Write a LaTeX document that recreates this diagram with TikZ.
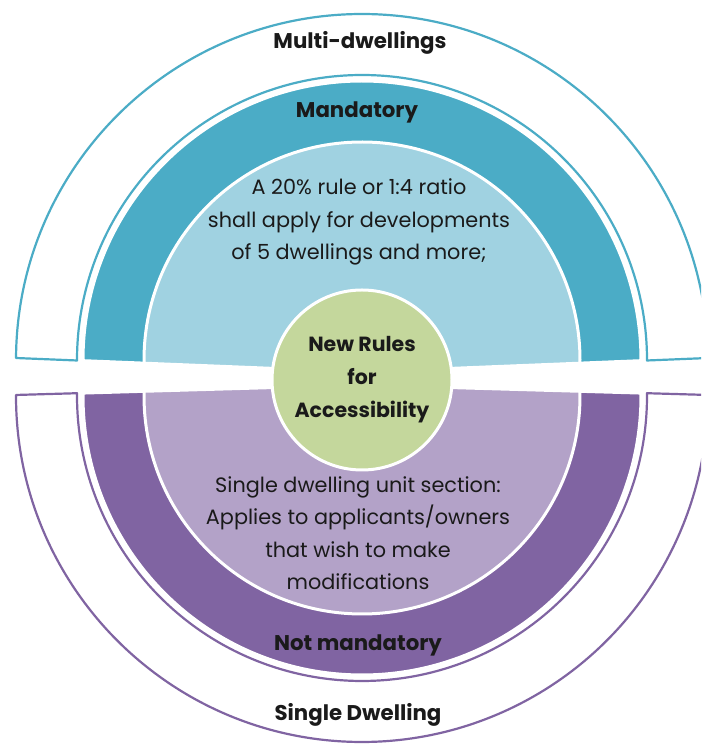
\documentclass[tikz,border=0pt]{standalone}
\usepackage{fontspec}
\setmainfont{Poppins}
\usetikzlibrary{calc}
\definecolor{tealdark}{HTML}{4BACC6}
\definecolor{teallight}{HTML}{A0D2E1}
\definecolor{plumdark}{HTML}{8064A2}
\definecolor{plumlight}{HTML}{B3A2C8}
\definecolor{hubgreen}{HTML}{C4D79C}
\definecolor{ink}{HTML}{1A1A1A}
\tikzset{
  rimline/.style ={draw=#1, line width=2.2pt, fill=white, line join=round},
  bandfill/.style={fill=#1, draw=white, line width=3pt, line join=round},
  hub/.style     ={circle, fill=hubgreen, draw=white, line width=3pt,
                   minimum size=180pt, inner sep=0pt, align=center, text=ink,
                   font=\fontsize{20.5}{33}\selectfont\bfseries},
  ttl/.style     ={font=\fontsize{21.3}{24}\selectfont\bfseries, text=ink},
  body/.style    ={font=\fontsize{20.8}{32.5}\selectfont, text=ink, align=center}
}

\begin{document}
\begin{tikzpicture}[x=1pt,y=1pt]
\useasboundingbox (0,0) rectangle (701,749);
\clip (0,0) rectangle (701,749);

\coordinate (top) at (362,389);
\coordinate (topapex) at (362,377);
\coordinate (bot) at (362,353);
\coordinate (botapex) at (362,364);

%% ---- Upper half: multi-dwellings --------------------------------------
\path[rimline=tealdark] (top) ++(179.67:346)
      arc[start angle=179.67, end angle=0.33, radius=346]
      -- ($(top)+(-0.1:285)$)
      arc[start angle=-0.1, end angle=180.1, radius=285] -- cycle;
\path[bandfill=tealdark] (top) ++(180.14:279)
      arc[start angle=180.14, end angle=-0.14, radius=279] -- (topapex) -- cycle;
\path[bandfill=teallight] (top) ++(180.84:218)
      arc[start angle=180.84, end angle=-0.84, radius=218] -- (topapex) -- cycle;

%% ---- Lower half: single dwelling --------------------------------------
\path[rimline=plumdark] (bot) ++(179.83:346)
      arc[start angle=179.83, end angle=360.17, radius=346]
      -- ($(bot)+(0.56:285)$)
      arc[start angle=360.56, end angle=179.44, radius=285] -- cycle;
\path[bandfill=plumdark] (bot) ++(179.4:279)
      arc[start angle=179.4, end angle=360.6, radius=279] -- (botapex) -- cycle;
\path[bandfill=plumlight] (bot) ++(178.76:218)
      arc[start angle=178.76, end angle=361.24, radius=218] -- (botapex) -- cycle;

%% ---- Labels -----------------------------------------------------------
\node[ttl] (multi) at (360,706) {Multi-dwellings};
\node[ttl] (mand) at (357,637) {Mandatory};
\node[body] (ruletxt) at (359,527) {A 20\% rule or 1:4 ratio\\
shall apply for developments\\of 5 dwellings and more;};
\node[body] (unittxt) at (358,216) {Single dwelling unit section:\\
Applies to applicants/owners\\that wish to make\\modifications};
\node[ttl] (notmand) at (358,104) {Not mandatory};
\node[ttl] (single) at (358,34) {Single Dwelling};

%% ---- Centre -----------------------------------------------------------
\node[hub] (hub) at (362,369) {New Rules\\for\\Accessibility};
\end{tikzpicture}
\end{document}
